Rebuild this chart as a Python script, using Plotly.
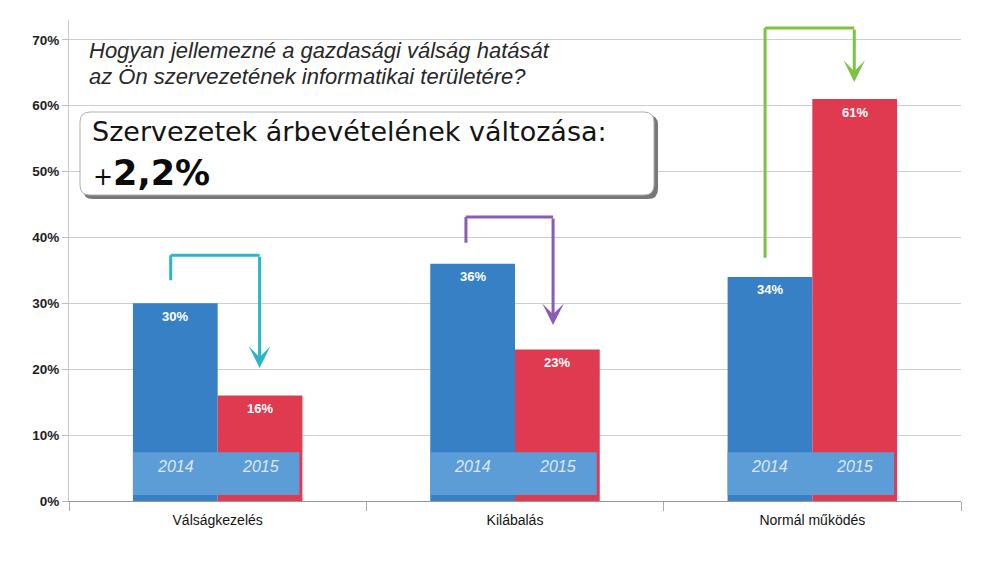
import plotly.graph_objects as go

# ---- data ----
categories = ["Válságkezelés", "Kilábalás", "Normál működés"]
years = ["2014", "2015"]
values_2014 = [30, 36, 34]
values_2015 = [16, 23, 61]
y_ticks = [0, 10, 20, 30, 40, 50, 60, 70]
y_tick_labels = [f"{v}%" for v in y_ticks]
title_lines = ["Hogyan jellemezné a gazdasági válság hatását",
               "az Ön szervezetének informatikai területére?"]
box_line1 = "Szervezetek árbevételének változása:"
box_line2_prefix = "+"
box_line2_value = "2,2%"

# ---- styles ----
BLUE = "rgb(56,128,198)"
RED = "rgb(224,58,80)"
BAND = "rgb(92,157,216)"
ARROW_COLORS = ["rgb(40,182,200)", "rgb(138,92,180)", "rgb(125,194,66)"]
# arrow geometry per category: (left x offset, right x offset, start y, top y, tip y)
ARROWS = [(-0.158, 0.141, 33.5, 37.3, 20.2),
          (-0.165, 0.128, 39.2, 43.1, 26.7),
          (-0.159, 0.141, 36.9, 71.8, 63.6)]
BARGAP = 0.43
HALF = (1 - BARGAP) / 2      # half group width
BAR_OFF = HALF / 2           # bar centre offset from category centre
FONT = "Liberation Sans, Arial"

fig = go.Figure()
fig.add_trace(go.Bar(x=categories, y=values_2014, name=years[0], marker_color=BLUE,
                     marker_line_width=0, hoverinfo="x+y"))
fig.add_trace(go.Bar(x=categories, y=values_2015, name=years[1], marker_color=RED,
                     marker_line_width=0, hoverinfo="x+y"))

shapes = []
annotations = []
for i, cat in enumerate(categories):
    # value labels inside top of bars
    for j, vals in enumerate([values_2014, values_2015]):
        annotations.append(dict(x=i + (j * 2 - 1) * BAR_OFF, y=vals[i], xref="x", yref="y",
                                yshift=-13, text=f"{vals[i]}%", showarrow=False,
                                font=dict(size=13, color="white", family=FONT, weight="bold")))
    # year band
    shapes.append(dict(type="rect", xref="x", yref="y", x0=i - HALF, x1=i + HALF - 0.01,
                       y0=0.9, y1=7.4, fillcolor=BAND, line_width=0, layer="above"))
    for j, yr in enumerate(years):
        annotations.append(dict(x=i + (j * 2 - 1) * BAR_OFF, y=5.2, xref="x", yref="y",
                                text=yr, showarrow=False,
                                font=dict(size=16, color="rgb(222,232,244)",
                                          family=FONT, style="italic")))
    # arrows
    xl, xr, ys, yt, ytip = ARROWS[i]
    col = ARROW_COLORS[i]
    shapes.append(dict(type="line", xref="x", yref="y", x0=i + xl, x1=i + xl, y0=ys, y1=yt,
                       line=dict(color=col, width=3), layer="above"))
    shapes.append(dict(type="line", xref="x", yref="y", x0=i + xl, x1=i + xr, y0=yt, y1=yt,
                       line=dict(color=col, width=3), layer="above"))
    annotations.append(dict(x=i + xr, y=ytip, ax=i + xr, ay=yt, xref="x", yref="y",
                            axref="x", ayref="y", showarrow=True, arrowhead=3,
                            arrowsize=1.2, arrowwidth=3, arrowcolor=col, standoff=0, text=""))

# pixel -> paper helpers (plot area 69..961 x 20..501)
def px(x):
    return (x - 69) / 892
def py(y):
    return (501 - y) / 481

# info box: shadow + white rounded rect
def rounded(x0, y0, x1, y1, r):
    rx = r / 892
    ry = r / 481
    X0, X1, Y0, Y1 = px(x0), px(x1), py(y1), py(y0)
    return (f"M {X0+rx},{Y0} L {X1-rx},{Y0} Q {X1},{Y0} {X1},{Y0+ry} "
            f"L {X1},{Y1-ry} Q {X1},{Y1} {X1-rx},{Y1} L {X0+rx},{Y1} "
            f"Q {X0},{Y1} {X0},{Y1-ry} L {X0},{Y0+ry} Q {X0},{Y0} {X0+rx},{Y0} Z")

shapes.append(dict(type="path", xref="paper", yref="paper", path=rounded(83, 115, 658, 199, 10),
                   fillcolor="rgb(120,120,120)", line_width=0, layer="above"))
shapes.append(dict(type="path", xref="paper", yref="paper", path=rounded(80, 112, 654, 195, 10),
                   fillcolor="white", line=dict(color="rgb(175,175,175)", width=1), layer="above"))

for k, (line, ypx) in enumerate(zip(title_lines, [50, 77])):
    annotations.append(dict(x=px(87), y=py(ypx), xref="paper", yref="paper", xanchor="left",
                            yanchor="middle", align="left", showarrow=False, text=line,
                            font=dict(size=22, color="rgb(40,40,40)", family=FONT,
                                      style="italic")))
annotations.append(dict(x=px(90), y=py(131), xref="paper", yref="paper", xanchor="left",
                        yanchor="middle", showarrow=False, text=box_line1,
                        font=dict(size=27, color="rgb(20,20,20)", family="DejaVu Sans")))
annotations.append(dict(x=px(91), y=py(173), xref="paper", yref="paper", xanchor="left",
                        yanchor="middle", showarrow=False,
                        text=f"{box_line2_prefix}<b><span style='font-size:35px'>{box_line2_value}</span></b>",
                        font=dict(size=24, color="rgb(10,10,10)", family="DejaVu Sans")))

fig.update_layout(
    width=991, height=565,
    margin=dict(l=69, r=30, t=20, b=64),
    paper_bgcolor="white", plot_bgcolor="white",
    barmode="group", bargap=BARGAP, bargroupgap=0,
    showlegend=False,
    shapes=shapes, annotations=annotations,
    font=dict(family=FONT, color="rgb(40,40,40)"),
    xaxis=dict(type="category", showline=True, linecolor="rgb(150,150,150)", linewidth=1,
               ticks="outside", tickson="boundaries", ticklen=9, tickcolor="rgb(170,170,170)",
               ticklabelstandoff=6,
               showgrid=False, tickfont=dict(size=14, color="rgb(20,20,20)")),
    yaxis=dict(range=[0, 73], tickmode="array", tickvals=y_ticks, ticktext=y_tick_labels,
               showgrid=True, showline=True, linecolor="rgb(200,200,200)", linewidth=1,
               gridcolor="rgb(205,205,205)", gridwidth=1, zeroline=False,
               ticks="outside", ticklen=6, tickcolor="rgb(190,190,190)",
               tickfont=dict(size=13.5, color="rgb(30,30,30)", weight="bold")),
)

fig.write_html("out.html")
